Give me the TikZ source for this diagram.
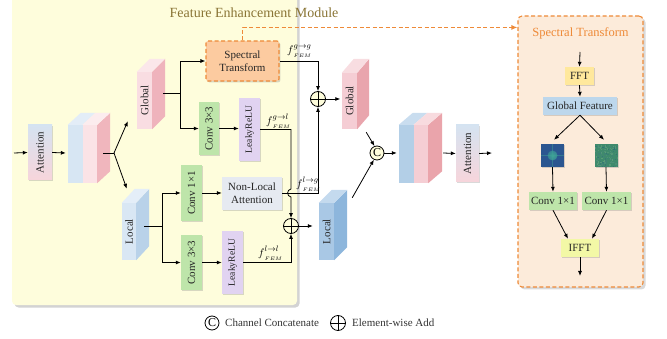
\documentclass[tikz,border=0pt]{standalone}
\usepackage{graphicx}
\usepackage{fontspec}
\setmainfont{Liberation Serif}
\usetikzlibrary{arrows.meta,shadows,calc}
\definecolor{panelY}{HTML}{FEFDDC}
\definecolor{panelO}{HTML}{FCEBDA}
\definecolor{orangeL}{HTML}{EE8A38}
\definecolor{titleC}{HTML}{8A7536}
\definecolor{stFill}{HTML}{FCCBA0}
\definecolor{convG}{HTML}{BEE5AA}
\definecolor{reluP}{HTML}{E1D3F1}
\definecolor{nlF}{HTML}{E6EAF1}
\definecolor{fftF}{HTML}{FFE89C}
\definecolor{ifftF}{HTML}{F3F8A6}
\definecolor{gfF}{HTML}{BDD7EC}
\definecolor{attB}{HTML}{D5E3F1}
\definecolor{attP}{HTML}{F7D5DB}
% cuboid colours
\definecolor{glFr}{HTML}{F9DDE2}\definecolor{glSd}{HTML}{EFB3BC}\definecolor{glTp}{HTML}{FBE7EA}
\definecolor{grFr}{HTML}{F5CDD4}\definecolor{grSd}{HTML}{E9A5AD}\definecolor{grTp}{HTML}{F8DDE1}
\definecolor{llFr}{HTML}{D9E7F4}\definecolor{llSd}{HTML}{B9D2E9}\definecolor{llTp}{HTML}{E4EEF8}
\definecolor{lrFr}{HTML}{A9C8E5}\definecolor{lrSd}{HTML}{8DB6DC}\definecolor{lrTp}{HTML}{C4DAEE}
\definecolor{bAB}{HTML}{D7E6F3}\definecolor{bAP}{HTML}{FBE3E6}\definecolor{bAS}{HTML}{F0B6BD}\definecolor{bATB}{HTML}{E3EDF7}\definecolor{bATP}{HTML}{FCECEE}
\definecolor{bBB}{HTML}{B3CFE7}\definecolor{bBP}{HTML}{F5CED4}\definecolor{bBS}{HTML}{EAA4AB}\definecolor{bBTB}{HTML}{C9DDEF}\definecolor{bBTP}{HTML}{F8DBDF}
\definecolor{imgA}{HTML}{2B5690}\definecolor{imgAc}{HTML}{3FA596}
\definecolor{imgB}{HTML}{3F8A6C}\definecolor{imgBc}{HTML}{5C9E78}\definecolor{imgBd}{HTML}{2F7472}
% side and top faces of a cuboid: node, dx, dy(up), side colour, top colour
\newcommand\mkcube[5]{%
  \fill[#4] (#1.north east) -- ($(#1.north east)+(#2,-#3)$) -- ($(#1.south east)+(#2,-#3)$) -- (#1.south east) -- cycle;
  \fill[#5] (#1.north west) -- ($(#1.north west)+(#2,-#3)$) -- ($(#1.north east)+(#2,-#3)$) -- (#1.north east) -- cycle;}
\newcommand\mktwotop[5]{%
  \fill[#4] (#1.north west) -- ($(#1.north west)+(#2,-#3)$) -- ($(#1.north)+(#2,-#3)$) -- (#1.north) -- cycle;
  \fill[#5] (#1.north) -- ($(#1.north)+(#2,-#3)$) -- ($(#1.north east)+(#2,-#3)$) -- (#1.north east) -- cycle;}
% feature label f with separated super- and subscript
\newcommand\featlab[1]{$f$\rlap{\raisebox{5pt}{$\scriptstyle #1$}}\raisebox{-3.6pt}{$\scriptscriptstyle FEM$}\phantom{$\scriptstyle #1$}}
\begin{document}
\begin{tikzpicture}[x=1pt,y=-1pt,
  ln/.style={line width=0.8pt},
  arr/.style={ln,-{Latex[length=5pt,width=4pt]}},
  shd/.style={drop shadow={opacity=0.3,shadow xshift=1.3pt,shadow yshift=-1.3pt}},
  box/.style={inner sep=0pt,shd,text=black!85,font=\fontsize{11}{12}\selectfont,align=center},
  front/.style={inner sep=0pt,text=black!85,font=\fontsize{11}{12}\selectfont},
  addop/.style={circle,draw,ln,minimum size=15pt,inner sep=0pt,fill=panelY,
    path picture={\draw[ln] (path picture bounding box.north) -- (path picture bounding box.south)
      (path picture bounding box.west) -- (path picture bounding box.east);}},
  catop/.style={circle,draw,ln,minimum size=14pt,inner sep=0pt,fill=panelY,font=\fontsize{12}{12}\selectfont},
  flab/.style={inner sep=0pt,font=\fontsize{11}{12}\selectfont},
  odash/.style={draw=orangeL,line width=1.1pt,dash pattern=on 4pt off 2.5pt}
]
\useasboundingbox (0,0) rectangle (667,339);
\clip (0,0) rectangle (667,339);
% panels
\node[fill=panelY,rounded corners=4pt,minimum width=285pt,minimum height=315pt,inner sep=0pt,
  drop shadow={opacity=0.35,shadow xshift=2.5pt,shadow yshift=-2.5pt}] (mp) at (154.5,147.5) {};
\node[fill=panelO,odash,rounded corners=4pt,minimum width=125pt,minimum height=271pt,inner sep=0pt,
  drop shadow={opacity=0.3,shadow xshift=2.5pt,shadow yshift=-2.5pt}] (rp) at (580.5,151.5) {};
\node[text=titleC,font=\fontsize{14}{14}\selectfont,inner sep=0pt] (t1) at (254,13) {Feature Enhancement Module};
\node[text=orangeL,font=\fontsize{12.5}{13}\selectfont,inner sep=0pt] (t2) at (580.5,33) {Spectral Transform};

% left chain
\node[box,minimum width=24pt,minimum height=55pt,top color=attB,bottom color=attP] (att1) at (40,152.5) {\rotatebox{90}{Attention}};
\node[front,fill=bAP,minimum width=29pt,minimum height=58pt,
  path picture={\fill[bAB] (path picture bounding box.south west) rectangle (path picture bounding box.north);}] (bc1) at (82.5,154) {};
\fill[bAS] (bc1.north east) -- ($(bc1.north east)+(13,-12)$) -- ($(bc1.south east)+(13,-12)$) -- (bc1.south east) -- cycle;
\mktwotop{bc1}{13}{12}{bATB}{bATP}

\node[front,fill=glFr,minimum width=15pt,minimum height=57pt] (gl) at (144.5,100.5) {\rotatebox{90}{Global}};
\mkcube{gl}{13}{13}{glSd}{glTp}
\node[front,fill=llFr,minimum width=14pt,minimum height=57pt] (ll) at (129,231.5) {\rotatebox{90}{Local}};
\mkcube{ll}{13}{14}{llSd}{llTp}

% global branch
\node[box,fill=stFill,odash,rounded corners=2pt,minimum width=73pt,minimum height=40pt] (st) at (242.5,61) {Spectral\\[1pt]Transform};
\node[box,fill=convG,minimum width=20pt,minimum height=53pt] (cg3) at (209,128.5) {\rotatebox{90}{Conv 3×3}};
\node[box,fill=reluP,minimum width=21pt,minimum height=63pt,font=\fontsize{9.6}{10}\selectfont] (lrg) at (249.5,129.5) {\rotatebox{90}{LeakyReLU}};

% local branch
\node[box,fill=convG,minimum width=21pt,minimum height=56pt] (c1) at (191.5,193) {\rotatebox{90}{Conv 1×1}};
\node[box,fill=convG,minimum width=21pt,minimum height=55pt] (c3l) at (191.5,262.5) {\rotatebox{90}{Conv 3×3}};
\node[box,fill=nlF,minimum width=60pt,minimum height=33pt] (nl) at (252,193.5) {Non-Local\\[1pt]Attention};
\node[box,fill=reluP,minimum width=21pt,minimum height=63pt,font=\fontsize{9.6}{10}\selectfont] (lrl) at (232.5,262.5) {\rotatebox{90}{LeakyReLU}};

% operators
\node[addop] (add1) at (318,99) {};
\node[addop] (add2) at (291,226) {};
\node[catop] (cat) at (377,153) {C};

% right cuboids
\node[front,fill=grFr,minimum width=15pt,minimum height=56pt] (gr) at (349.5,101) {\rotatebox{90}{Global}};
\mkcube{gr}{12}{14}{grSd}{grTp}
\node[front,fill=lrFr,minimum width=15pt,minimum height=57pt] (lr) at (326.5,231.5) {\rotatebox{90}{Local}};
\mkcube{lr}{13}{13}{lrSd}{lrTp}
\node[front,fill=bBP,minimum width=29pt,minimum height=58pt,
  path picture={\fill[bBB] (path picture bounding box.south west) rectangle (path picture bounding box.north);}] (bc2) at (413.5,154) {};
\fill[bBS] (bc2.north east) -- ($(bc2.north east)+(14,-12)$) -- ($(bc2.south east)+(14,-12)$) -- (bc2.south east) -- cycle;
\mktwotop{bc2}{14}{12}{bBTB}{bBTP}
\node[box,minimum width=23pt,minimum height=57pt,top color=attB,bottom color=attP] (att2) at (467.5,153.5) {\rotatebox{90}{Attention}};

% labels
\node[flab,anchor=west] (lgg) at (287,51) {\featlab{g\to g}};
\node[flab,anchor=west] (lgl) at (266,121) {\featlab{g\to l}};
\node[flab,anchor=west] (llg) at (296,184) {\featlab{l\to g}};
\node[flab,anchor=west] (lll) at (258,253) {\featlab{l\to l}};

% connectors main
\coordinate (in) at (14,153);
\draw[arr] (in) -- (att1.west);
\draw[arr] (att1.east) -- ($(bc1.west)+(-2,-1)$);
\coordinate (s1) at (114,153);
\draw[ln] ($(bc1.east)+(6,-1)$) -- (s1);
\draw[arr] (s1) -- ($(gl.south west)+(-9,-8)$);
\draw[arr] (s1) -- ($(ll.north west)+(5,-14)$);
\coordinate (j1) at (180,93);
\draw[ln] ($(gl.east)+(11,-7.5)$) -- (j1);
\draw[arr] (j1) |- (st.west);
\draw[arr] (j1) |- (cg3.west);
\draw[arr] (cg3.east) -- (cg3.east -| lrg.west);
\coordinate (j2) at (162,226);
\draw[ln] ($(ll.east)+(8,-5.5)$) -- (j2);
\draw[arr] (j2) |- (c1.west);
\draw[arr] (j2) |- (c3l.west);
\draw[arr] (c1.east) -- (c1.east -| nl.west);
\draw[arr] (c3l.east) -- (c3l.east -| lrl.west);
% to adders
\draw[arr] (st.east) -| (add1.north);
\draw[arr] (nl.east) -| (add1.south);
\draw[arr] (lrg.east) -| (291,189) .. controls (286.5,189.5) and (286.5,196.5) .. (291,197) -- (add2.north);
\draw[arr] (lrl.east) -| (add2.south);
\draw[arr] (add1.east) -- ($(gr.west)+(-1.5,-2)$);
\draw[arr] (add2.east) -- ($(lr.west)+(-6,-5.5)$);
\draw[arr] ($(gr.south east)+(9,3)$) -- (cat.110);
\draw[arr] ($(lr.north east)+(18,-5)$) -- (cat.245);
\draw[arr] (cat.east) -- ($(bc2.west)+(-2,-1)$);
\draw[arr] ($(bc2.east)+(15,-1)$) -- (att2.west);
\coordinate (out) at (492,153);
\draw[arr] (att2.east) -- (out);
% link to spectral panel
\draw[odash,-{Latex[length=6pt,width=5pt]}] (st.north) |- ($(rp.north west)+(0,12)$);

% spectral transform panel
\node[box,fill=fftF,minimum width=29pt,minimum height=18pt] (fft) at (579.5,76) {FFT};
\node[box,fill=gfF,minimum width=74pt,minimum height=18pt] (gf) at (580,106) {Global Feature};
\node[inner sep=0pt,minimum size=23pt,fill=imgA,shd,
  path picture={
    \shade[inner color=imgAc,outer color=imgA] (path picture bounding box.center) circle (5pt);
    \draw[imgAc,opacity=0.45,line width=0.5pt] (path picture bounding box.north) -- (path picture bounding box.south)
      (path picture bounding box.west) -- (path picture bounding box.east);
  }] (img1) at (552.5,155.5) {};
\node[inner sep=0pt,minimum size=23pt,fill=imgB,shd,
  path picture={
    \pgfmathsetseed{7}
    \foreach \k in {1,...,140}{
      \pgfmathsetmacro\rx{rnd*22-11}\pgfmathsetmacro\ry{rnd*22-11}\pgfmathsetmacro\rc{rnd*100}
      \fill[imgBc!\rc!imgBd] ($(path picture bounding box.center)+(\rx,\ry)$) rectangle ++(1.3,1.3);
    }
  }] (img2) at (606,155.5) {};
\node[box,fill=convG,minimum width=48pt,minimum height=18pt] (cv1) at (553,201) {Conv 1×1};
\node[box,fill=convG,minimum width=49pt,minimum height=18pt] (cv2) at (606.5,201) {Conv 1×1};
\node[box,fill=ifftF,minimum width=38pt,minimum height=18pt] (ifft) at (580,248) {IFFT};
\coordinate (sin) at (580,52);
\coordinate (sout) at (580,276);
\draw[arr] (sin) -- (fft.north);
\draw[arr] (fft.south) -- (gf.north);
\draw[arr] (gf.south) -- ($(img1.north)+(1.5,-4)$);
\draw[arr] (gf.south) -- ($(img2.north)+(-2,-4)$);
\draw[arr] (img1.south) -- (cv1.north);
\draw[arr] (img2.south) -- (cv2.north);
\draw[arr] (cv1.south) -- ($(ifft.north)+(-12,0)$);
\draw[arr] (cv2.south) -- ($(ifft.north)+(12,0)$);
\draw[arr] (ifft.south) -- (sout);

% legend
\node[catop,fill=white] (leg1) at (212,323) {C};
\node[anchor=west,inner sep=0pt,text=black!80,font=\fontsize{11}{12}\selectfont] (leg1t) at (225,323) {Channel Concatenate};
\node[addop,fill=white] (leg2) at (338,323) {};
\node[anchor=west,inner sep=0pt,text=black!80,font=\fontsize{11}{12}\selectfont] (leg2t) at (352,323) {Element-wise Add};
\end{tikzpicture}
\end{document}
